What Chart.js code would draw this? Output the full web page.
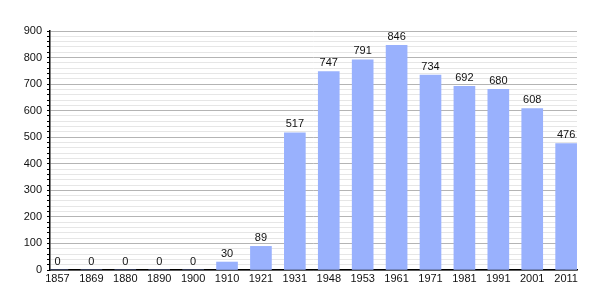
<!DOCTYPE html>
<html>
<head>
<meta charset="utf-8">
<script src="https://cdn.jsdelivr.net/npm/chart.js@4/dist/chart.umd.min.js"></script>
<style>
html,body{margin:0;padding:0;background:#fff;}
#wrap{width:605px;height:300px;position:relative;}
</style>
</head>
<body>
<div id="wrap"><canvas id="c" width="605" height="300"></canvas></div>
<script>
const years = ['1857','1869','1880','1890','1900','1910','1921','1931','1948','1953','1961','1971','1981','1991','2001','2011'];
const population = [0,0,0,0,0,30,89,517,747,791,846,734,692,680,608,476];
const yMax = 900;

const FONT = 'Liberation Sans, Arial, sans-serif';

const valueLabels = {
  id: 'valueLabels',
  afterDatasetsDraw(chart) {
    const ctx = chart.ctx;
    const meta = chart.getDatasetMeta(0);
    ctx.save();
    ctx.font = '11px ' + FONT;
    ctx.fillStyle = '#111';
    ctx.textAlign = 'center';
    ctx.textBaseline = 'bottom';
    meta.data.forEach((bar, i) => {
      ctx.fillText(String(population[i]), bar.x, bar.y - 3);
    });
    ctx.restore();
  }
};

new Chart(document.getElementById('c'), {
  type: 'bar',
  data: {
    datasets: [{
      data: population.map((v, i) => ({x: i, y: v})),
      backgroundColor: '#99b1fd',
      borderWidth: 0,
      barThickness: 21
    }]
  },
  options: {
    responsive: false,
    animation: false,
    events: [],
    layout: {padding: {left: 0, right: 28, top: 31, bottom: 0}},
    plugins: {legend: {display: false}, tooltip: {enabled: false}},
    scales: {
      x: {
        type: 'linear',
        offset: false,
        min: -0.22,
        max: 15.32,
        afterBuildTicks(scale) {
          scale.ticks = years.map((y, i) => ({value: i}));
        },
        afterFit(scale) { scale.height = 30; },
        ticks: {
          autoSkip: false,
          maxRotation: 0,
          padding: 2,
          color: '#111',
          font: {family: FONT, size: 11},
          callback: (v) => years[v]
        },
        grid: {display: false, drawTicks: false, offset: false},
        border: {color: '#000', width: 1.5}
      },
      y: {
        min: 0,
        max: yMax,
        afterFit(scale) { scale.width = 50; },
        ticks: {
          stepSize: 20,
          autoSkip: false,
          padding: 5,
          color: '#111',
          font: {family: FONT, size: 11},
          callback: (v) => (v % 100 === 0 ? String(v) : '')
        },
        grid: {
          color: (c) => (c.tick && c.tick.value % 100 === 0 ? '#b4b4b4' : '#e6e6e6'),
          tickColor: '#000',
          tickLength: (c) => (c.tick && c.tick.value % 100 === 0 ? 6 : 3),
          lineWidth: 1
        },
        border: {color: '#000', width: 1.5}
      }
    }
  },
  plugins: [valueLabels]
});
</script>
</body>
</html>
